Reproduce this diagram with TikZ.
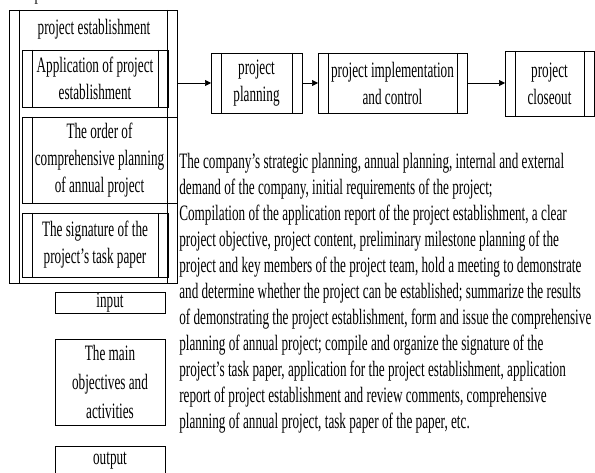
\documentclass[tikz,border=0pt]{standalone}
\usepackage{fontspec}
\setmainfont{Liberation Serif}[FakeStretch=0.6]
\usetikzlibrary{arrows.meta,positioning}

\tikzset{
  % box with an extra vertical rule inside each side
  procbox/.style={draw, inner sep=0pt, outer sep=0pt, align=center,
    path picture={
      \draw ([xshift=#1]path picture bounding box.north west)
        -- ([xshift=#1]path picture bounding box.south west);
      \draw ([xshift=-#1]path picture bounding box.north east)
        -- ([xshift=-#1]path picture bounding box.south east);
    }},
  procbox/.default=10pt,
  plainbox/.style={draw, inner sep=0pt, outer sep=0pt, align=center},
  flow/.style={-{Triangle[length=6pt,width=6pt]}},
}

\begin{document}
\begin{tikzpicture}[x=1pt,y=-1pt,line width=0.6pt,
  font=\fontsize{22}{27}\selectfont]
	\useasboundingbox (0,0) rectangle (595,473);

	%project establishment
	\node[procbox,minimum width=168,minimum height=273] (estab) at (93,146.5) {};
	\node (estabtitle) at (94,29) {project establishment};
	\node[anchor=base] (pcut) at (38,0) {p}; %cut off above

	\node[procbox,minimum width=146,minimum height=57] (apply) at (95,78.5)
	  {Application of project\\establishment};
	\node[procbox,minimum width=155,minimum height=86] (order) at (99.5,160)
	  {The order of\\comprehensive planning\\of annual project};
	\node[procbox,minimum width=146,minimum height=64] (sign) at (95,245)
	  {The signature of the\\project’s task paper};

	%phases
	\node[procbox,minimum width=91,minimum height=60] (plan) at (256.5,83)
	  {project\\planning};
	\node[procbox,minimum width=149,minimum height=60] (impl) at (392.5,83)
	  {project implementation\\and control};
	\node[procbox,minimum width=89,minimum height=65] (close) at (549.5,83.5)
	  {project\\closeout};

	%arrows
	\draw[flow] (plan.west -| estab.east) -- (plan.west);
	\draw[flow] (plan.east) -- (impl.west);
	\draw[flow] (impl.east) -- (impl.east -| close.west);

	%description
	\node[anchor=north west,align=left,inner sep=0pt,
	  font=\fontsize{22}{26}\selectfont] (desc) at (179,153)
	  {The company's strategic planning, annual planning, internal and external\\
	   demand of the company, initial requirements of the project;\\
	   Compilation of the application report of the project establishment, a clear\\
	   project objective, project content, preliminary milestone planning of the\\
	   project and key members of the project team, hold a meeting to demonstrate\\
	   and determine whether the project can be established; summarize the results\\
	   of demonstrating the project establishment, form and issue the comprehensive\\
	   planning of annual project; compile and organize the signature of the\\
	   project’s task paper, application for the project establishment, application\\
	   report of project establishment and review comments, comprehensive\\
	   planning of annual project, task paper of the paper, etc.};

	%legend
	\node[plainbox,minimum width=110,minimum height=21] (input) at (110,302.5) {input};
	\node[plainbox,minimum width=110,minimum height=86,
	  font=\fontsize{22}{29}\selectfont] (main) at (110,382)
	  {The main\\objectives and\\activities};
	\node[plainbox,minimum width=110,minimum height=50] (output) at (110,471) {};
	\node (outtext) at (110,461) {output};
\end{tikzpicture}
\end{document}
